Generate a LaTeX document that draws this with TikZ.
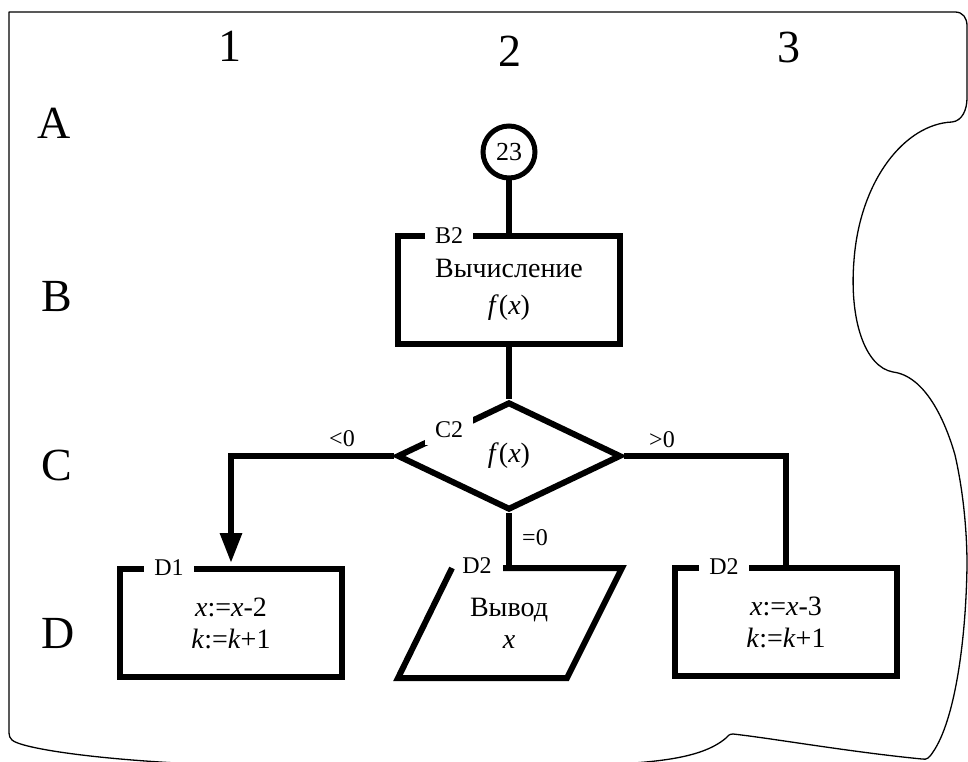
\documentclass[tikz,border=0pt]{standalone}
\usepackage{fontspec}
\setmainfont{Liberation Serif}
\usetikzlibrary{shapes.geometric,arrows.meta,calc}
\begin{document}
\begin{tikzpicture}[x=1pt,y=-1pt,
  thickline/.style={line width=6pt},
  blk/.style={draw, line width=6pt, rectangle, minimum width=222pt, minimum height=108pt, inner sep=0pt, align=center, font=\fontsize{28}{32}\selectfont},
  plain/.style={inner sep=0pt, align=center, font=\fontsize{28}{32}\selectfont},
  tag/.style={fill=white, inner xsep=10pt, inner ysep=3pt, font=\fontsize{24}{26}\selectfont},
  gridlbl/.style={font=\fontsize{46}{50}\selectfont, inner sep=0pt},
  cond/.style={font=\fontsize{24}{26}\selectfont, inner sep=0pt},
]
\useasboundingbox (0,0) rectangle (968,762);

% page outline
\draw[line width=1.3pt, line join=round] (9,733) -- (9,12) -- (955,12)
  .. controls (963,12) and (967,18) .. (967,26) -- (967,98)
  .. controls (967,110) and (962,121) .. (952,122)
  .. controls (905,124) and (860,180) .. (854,260)
  .. controls (849,320) and (865,367) .. (893,372)
  .. controls (925,376) and (945,420) .. (955,455)
  .. controls (963,490) and (967,530) .. (967,565)
  .. controls (966,640) and (955,720) .. (933,752)
  .. controls (929,758) and (927,760) .. (922,759)
  .. controls (850,752) and (770,738) .. (733,734)
  .. controls (729,734) and (728,736) .. (726,738)
  .. controls (700,760) and (650,764) .. (560,766) -- (250,766)
  .. controls (100,762) and (20,748) .. (12,740)
  .. controls (10,738) and (9,736) .. (9,733);

% grid labels
\node[gridlbl] (g1) at (230,46) {1};
\node[gridlbl] (g2) at (510,51) {2};
\node[gridlbl] (g3) at (789,47) {3};
\node[gridlbl] (gA) at (54,123) {A};
\node[gridlbl] (gB) at (57,297) {B};
\node[gridlbl] (gC) at (57,465) {C};
\node[gridlbl] (gD) at (58,633) {D};

% blocks
\node[circle, draw, line width=5pt, minimum size=52pt, inner sep=0pt, font=\fontsize{26}{28}\selectfont] (c23) at (509,152) {23};
\node[blk] (b2) at (509,290) {Вычисление\\[5pt]\textit{f}(\textit{x})};
\node[diamond, draw, line width=6pt, minimum width=224pt, minimum height=108pt, inner sep=0pt, font=\fontsize{28}{32}\selectfont] (c2) at (509,456) {\textit{f}(\textit{x})};
\node[blk] (d1) at (231,623) {\textit{x}:=\textit{x}-2\\\textit{k}:=\textit{k}+1};
\node[blk] (d3) at (786,622) {\textit{x}:=\textit{x}-3\\\textit{k}:=\textit{k}+1};
\node[plain, minimum width=168pt, minimum height=110pt] (out) at (509,623) {Вывод\\\textit{x}};
\draw[thickline] (503,568) -- (622,568) -- (567,678) -- (398,678) -- (452,568);

% tags
\node[tag] (tb2) at (449,236) {B2};
\node[fill=white, minimum width=48pt, minimum height=30pt, inner sep=0pt, font=\fontsize{24}{26}\selectfont] (tc2) at (449,430) {C2};
\node[tag] (td1) at (169,568) {D1};
\node[inner sep=0pt, font=\fontsize{24}{26}\selectfont] (td2) at (477,566) {D2};
\node[tag] (td3) at (724,567) {D2};

% connectors
\draw[thickline] (c23) -- (b2);
\draw[thickline] (b2.south) -- (c2.north);
\draw[thickline, -{Triangle[length=30pt,width=21pt]}, shorten >=3pt] (c2.west) -| (d1.north);
\draw[thickline] (c2.east) -| (d3.north);
\draw[thickline] (c2.south) -- (out.north);

% condition labels
\node[cond] (lt) at (342,439) {<0};
\node[cond] (gt) at (662,440) {>0};
\node[cond] (eq) at (535,538) {=0};
\end{tikzpicture}
\end{document}
